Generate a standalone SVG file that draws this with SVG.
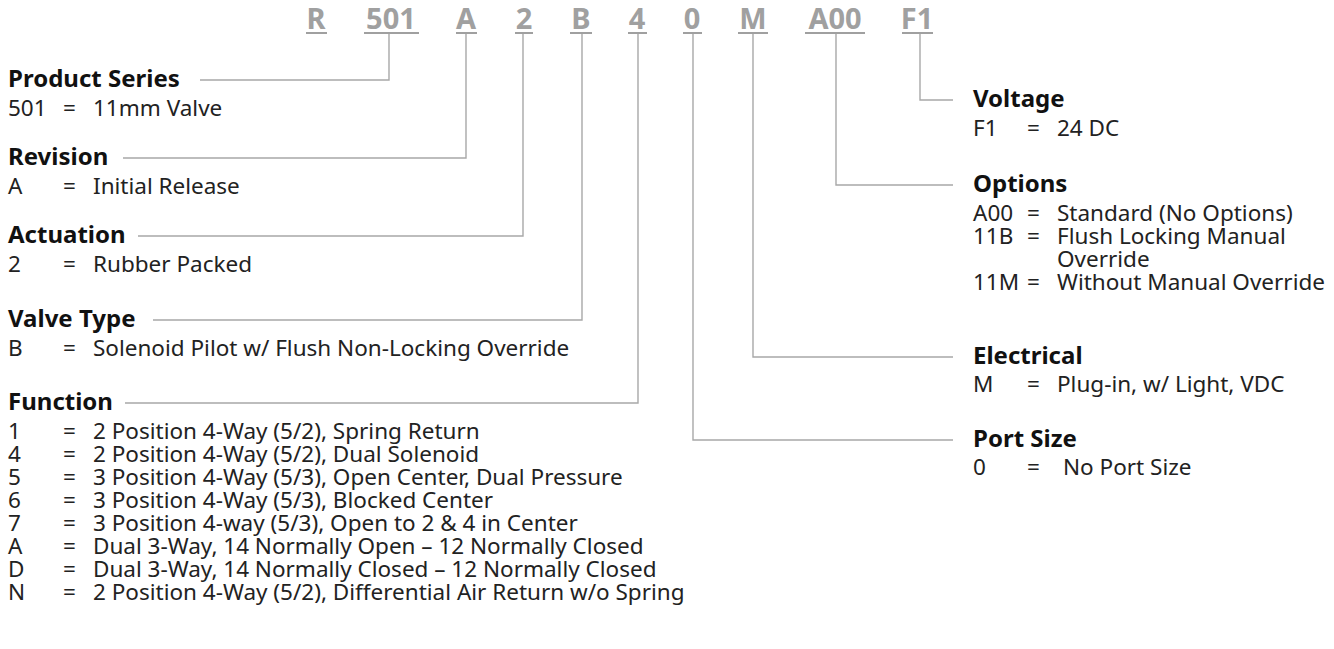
<svg xmlns="http://www.w3.org/2000/svg" width="1334" height="649" viewBox="0 0 1334 649">
<style>
.code{font-family:"Noto Sans","Open Sans",sans-serif;font-weight:700;font-size:29px;fill:#a0a0a0;text-anchor:middle}
.ul{stroke:#a0a0a0;stroke-width:2}
.h{font-family:"Noto Sans","Open Sans",sans-serif;font-weight:700;font-size:24px;fill:#111}
.t{font-family:"Noto Sans","Open Sans",sans-serif;font-size:22.5px;fill:#222}
.ld{fill:none;stroke:#a8a8a8;stroke-width:1.4}
</style>
<rect width="1334" height="649" fill="#fff"/>
<g id="code">
<text class="code" x="316" y="29">R</text><line class="ul" x1="306" y1="33" x2="327" y2="33"/>
<text class="code" x="391" y="29">501</text><line class="ul" x1="364" y1="33" x2="419" y2="33"/>
<text class="code" x="466" y="29">A</text><line class="ul" x1="456" y1="33" x2="477" y2="33"/>
<text class="code" x="524" y="29">2</text><line class="ul" x1="515" y1="33" x2="533" y2="33"/>
<text class="code" x="581" y="29">B</text><line class="ul" x1="570" y1="33" x2="592" y2="33"/>
<text class="code" x="637" y="29">4</text><line class="ul" x1="628" y1="33" x2="647" y2="33"/>
<text class="code" x="692" y="29">0</text><line class="ul" x1="683" y1="33" x2="702" y2="33"/>
<text class="code" x="753" y="29">M</text><line class="ul" x1="738" y1="33" x2="768" y2="33"/>
<text class="code" x="835" y="29">A00</text><line class="ul" x1="805" y1="33" x2="865" y2="33"/>
<text class="code" x="917" y="29">F1</text><line class="ul" x1="902" y1="33" x2="933" y2="33"/>
</g>
<g id="connectors">
<path class="ld" d="M389 34V80H200"/>
<path class="ld" d="M466 34V158H123"/>
<path class="ld" d="M523 34V236H138"/>
<path class="ld" d="M582 34V320H153"/>
<path class="ld" d="M638 34V403H125"/>
<path class="ld" d="M693 34V440H953"/>
<path class="ld" d="M753 34V357H953"/>
<path class="ld" d="M836 34V185H953"/>
<path class="ld" d="M920 34V100H953"/>
</g>
<g id="product-series">
<text class="h" x="8" y="87">Product Series</text>
<text class="t" x="8" y="116">501</text><text class="t" x="63" y="116">=</text><text class="t" x="93" y="116">11mm Valve</text>
</g>
<g id="revision">
<text class="h" x="8" y="165">Revision</text>
<text class="t" x="8" y="194">A</text><text class="t" x="63" y="194">=</text><text class="t" x="93" y="194">Initial Release</text>
</g>
<g id="actuation">
<text class="h" x="8" y="243">Actuation</text>
<text class="t" x="8" y="272">2</text><text class="t" x="63" y="272">=</text><text class="t" x="93" y="272">Rubber Packed</text>
</g>
<g id="valve-type">
<text class="h" x="8" y="327">Valve Type</text>
<text class="t" x="8" y="356">B</text><text class="t" x="63" y="356">=</text><text class="t" x="93" y="356">Solenoid Pilot w/ Flush Non-Locking Override</text>
</g>
<g id="function">
<text class="h" x="8" y="410">Function</text>
<text class="t" x="8" y="439">1</text><text class="t" x="63" y="439">=</text><text class="t" x="93" y="439">2 Position 4-Way (5/2), Spring Return</text>
<text class="t" x="8" y="462">4</text><text class="t" x="63" y="462">=</text><text class="t" x="93" y="462">2 Position 4-Way (5/2), Dual Solenoid</text>
<text class="t" x="8" y="485">5</text><text class="t" x="63" y="485">=</text><text class="t" x="93" y="485">3 Position 4-Way (5/3), Open Center, Dual Pressure</text>
<text class="t" x="8" y="508">6</text><text class="t" x="63" y="508">=</text><text class="t" x="93" y="508">3 Position 4-Way (5/3), Blocked Center</text>
<text class="t" x="8" y="531">7</text><text class="t" x="63" y="531">=</text><text class="t" x="93" y="531">3 Position 4-way (5/3), Open to 2 &amp; 4 in Center</text>
<text class="t" x="8" y="554">A</text><text class="t" x="63" y="554">=</text><text class="t" x="93" y="554">Dual 3-Way, 14 Normally Open – 12 Normally Closed</text>
<text class="t" x="8" y="577">D</text><text class="t" x="63" y="577">=</text><text class="t" x="93" y="577">Dual 3-Way, 14 Normally Closed – 12 Normally Closed</text>
<text class="t" x="8" y="600">N</text><text class="t" x="63" y="600">=</text><text class="t" x="93" y="600">2 Position 4-Way (5/2), Differential Air Return w/o Spring</text>
</g>
<g id="voltage">
<text class="h" x="973" y="107">Voltage</text>
<text class="t" x="973" y="136">F1</text><text class="t" x="1027" y="136">=</text><text class="t" x="1057" y="136">24 DC</text>
</g>
<g id="options">
<text class="h" x="973" y="192">Options</text>
<text class="t" x="973" y="221">A00</text><text class="t" x="1027" y="221">=</text><text class="t" x="1057" y="221">Standard (No Options)</text>
<text class="t" x="973" y="244">11B</text><text class="t" x="1027" y="244">=</text><text class="t" x="1057" y="244">Flush Locking Manual</text>
<text class="t" x="1057" y="267">Override</text>
<text class="t" x="973" y="290">11M</text><text class="t" x="1027" y="290">=</text><text class="t" x="1057" y="290">Without Manual Override</text>
</g>
<g id="electrical">
<text class="h" x="973" y="364">Electrical</text>
<text class="t" x="973" y="392">M</text><text class="t" x="1027" y="392">=</text><text class="t" x="1057" y="392">Plug-in, w/ Light, VDC</text>
</g>
<g id="port-size">
<text class="h" x="973" y="447">Port Size</text>
<text class="t" x="973" y="475">0</text><text class="t" x="1027" y="475">=</text><text class="t" x="1063" y="475">No Port Size</text>
</g>
</svg>
